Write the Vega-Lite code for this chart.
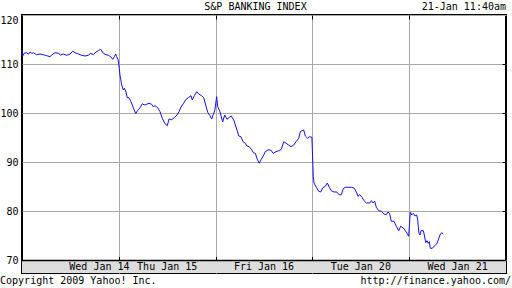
{
  "$schema": "https://vega.github.io/schema/vega-lite/v6.json",
  "width": 484,
  "height": 258,
  "autosize": "none",
  "padding": {"left": 22, "top": 15, "right": 6, "bottom": 15},
  "background": "white",
  "config": {
    "view": {"stroke": "black", "strokeWidth": 2},
    "font": "DejaVu Sans Mono",
    "axis": {"labelFont": "DejaVu Sans Mono", "labelFontSize": 10, "labelColor": "black", "gridColor": "#aaaaaa", "gridOpacity": 1, "gridWidth": 1, "tickColor": "black", "tickWidth": 1}
  },
  "datasets": {
    "prices": [
      {"t": 0.000, "v": 112.87}, {"t": 0.007, "v": 111.65}, {"t": 0.021, "v": 112.20}, {"t": 0.049, "v": 112.32},
      {"t": 0.065, "v": 112.00}, {"t": 0.083, "v": 112.46}, {"t": 0.100, "v": 112.20}, {"t": 0.117, "v": 112.32},
      {"t": 0.152, "v": 111.91}, {"t": 0.186, "v": 112.06}, {"t": 0.220, "v": 111.91}, {"t": 0.255, "v": 111.71},
      {"t": 0.289, "v": 111.51}, {"t": 0.307, "v": 111.85}, {"t": 0.341, "v": 112.32}, {"t": 0.375, "v": 112.20},
      {"t": 0.400, "v": 111.85}, {"t": 0.427, "v": 112.06}, {"t": 0.462, "v": 111.79}, {"t": 0.496, "v": 112.06},
      {"t": 0.524, "v": 112.61}, {"t": 0.548, "v": 112.32}, {"t": 0.582, "v": 112.06}, {"t": 0.617, "v": 111.79},
      {"t": 0.651, "v": 111.65}, {"t": 0.685, "v": 111.79}, {"t": 0.710, "v": 112.20}, {"t": 0.737, "v": 111.91},
      {"t": 0.764, "v": 112.46}, {"t": 0.788, "v": 112.73}, {"t": 0.813, "v": 113.01}, {"t": 0.840, "v": 112.20},
      {"t": 0.868, "v": 111.91}, {"t": 0.892, "v": 111.79}, {"t": 0.916, "v": 111.51}, {"t": 0.937, "v": 110.98},
      {"t": 0.954, "v": 111.51}, {"t": 0.968, "v": 112.06}, {"t": 0.978, "v": 111.51}, {"t": 0.992, "v": 110.98},
      {"t": 1.005, "v": 109.14}, {"t": 1.012, "v": 107.78}, {"t": 1.030, "v": 105.74}, {"t": 1.046, "v": 104.73},
      {"t": 1.057, "v": 105.07}, {"t": 1.071, "v": 104.52}, {"t": 1.088, "v": 103.16}, {"t": 1.105, "v": 103.16},
      {"t": 1.126, "v": 102.34}, {"t": 1.150, "v": 101.12}, {"t": 1.175, "v": 99.90}, {"t": 1.195, "v": 100.59},
      {"t": 1.219, "v": 101.12}, {"t": 1.243, "v": 101.93}, {"t": 1.263, "v": 101.67}, {"t": 1.288, "v": 101.81},
      {"t": 1.312, "v": 102.02}, {"t": 1.340, "v": 101.81}, {"t": 1.356, "v": 101.32}, {"t": 1.374, "v": 101.53},
      {"t": 1.402, "v": 101.12}, {"t": 1.426, "v": 100.31}, {"t": 1.449, "v": 98.96}, {"t": 1.477, "v": 97.86},
      {"t": 1.501, "v": 97.45}, {"t": 1.519, "v": 98.82}, {"t": 1.546, "v": 98.68}, {"t": 1.573, "v": 99.08},
      {"t": 1.601, "v": 99.63}, {"t": 1.622, "v": 100.31}, {"t": 1.643, "v": 101.26}, {"t": 1.666, "v": 101.93},
      {"t": 1.691, "v": 102.75}, {"t": 1.718, "v": 103.16}, {"t": 1.746, "v": 103.56}, {"t": 1.759, "v": 102.69},
      {"t": 1.780, "v": 103.56}, {"t": 1.805, "v": 104.38}, {"t": 1.829, "v": 103.85}, {"t": 1.856, "v": 103.56},
      {"t": 1.877, "v": 103.16}, {"t": 1.898, "v": 101.67}, {"t": 1.918, "v": 100.18}, {"t": 1.942, "v": 99.49},
      {"t": 1.960, "v": 98.82}, {"t": 1.976, "v": 99.78}, {"t": 1.991, "v": 100.45}, {"t": 2.011, "v": 103.36},
      {"t": 2.022, "v": 101.32}, {"t": 2.045, "v": 100.31}, {"t": 2.073, "v": 98.21}, {"t": 2.094, "v": 99.63},
      {"t": 2.118, "v": 98.76}, {"t": 2.142, "v": 99.16}, {"t": 2.162, "v": 99.43}, {"t": 2.187, "v": 98.62},
      {"t": 2.204, "v": 97.60}, {"t": 2.221, "v": 96.58}, {"t": 2.239, "v": 95.36}, {"t": 2.262, "v": 95.21},
      {"t": 2.283, "v": 94.20}, {"t": 2.307, "v": 93.87}, {"t": 2.324, "v": 93.32}, {"t": 2.348, "v": 93.18},
      {"t": 2.369, "v": 92.65}, {"t": 2.390, "v": 91.96}, {"t": 2.410, "v": 91.83}, {"t": 2.431, "v": 90.61},
      {"t": 2.451, "v": 89.80}, {"t": 2.472, "v": 90.61}, {"t": 2.497, "v": 91.49}, {"t": 2.513, "v": 92.16},
      {"t": 2.541, "v": 92.51}, {"t": 2.569, "v": 92.51}, {"t": 2.596, "v": 91.83}, {"t": 2.624, "v": 92.16},
      {"t": 2.652, "v": 92.36}, {"t": 2.679, "v": 92.65}, {"t": 2.704, "v": 94.20}, {"t": 2.727, "v": 93.87},
      {"t": 2.755, "v": 93.52}, {"t": 2.779, "v": 93.18}, {"t": 2.807, "v": 93.52}, {"t": 2.831, "v": 94.20},
      {"t": 2.859, "v": 94.89}, {"t": 2.875, "v": 96.23}, {"t": 2.893, "v": 96.44}, {"t": 2.910, "v": 96.58},
      {"t": 2.927, "v": 95.36}, {"t": 2.951, "v": 94.89}, {"t": 2.972, "v": 95.21}, {"t": 2.995, "v": 95.09},
      {"t": 3.009, "v": 87.15}, {"t": 3.017, "v": 85.78}, {"t": 3.040, "v": 84.91}, {"t": 3.065, "v": 84.09},
      {"t": 3.086, "v": 83.95}, {"t": 3.106, "v": 84.77}, {"t": 3.133, "v": 85.11}, {"t": 3.154, "v": 85.78},
      {"t": 3.175, "v": 84.91}, {"t": 3.195, "v": 84.22}, {"t": 3.223, "v": 83.95}, {"t": 3.251, "v": 83.95},
      {"t": 3.275, "v": 83.40}, {"t": 3.299, "v": 83.40}, {"t": 3.319, "v": 84.62}, {"t": 3.340, "v": 84.91},
      {"t": 3.368, "v": 84.91}, {"t": 3.402, "v": 84.91}, {"t": 3.430, "v": 84.77}, {"t": 3.454, "v": 83.95},
      {"t": 3.471, "v": 83.08}, {"t": 3.489, "v": 83.40}, {"t": 3.512, "v": 82.87}, {"t": 3.533, "v": 82.18},
      {"t": 3.557, "v": 81.71}, {"t": 3.592, "v": 81.71}, {"t": 3.609, "v": 82.18}, {"t": 3.626, "v": 81.71},
      {"t": 3.644, "v": 82.06}, {"t": 3.660, "v": 80.84}, {"t": 3.685, "v": 80.14}, {"t": 3.712, "v": 80.02},
      {"t": 3.740, "v": 79.47}, {"t": 3.763, "v": 79.33}, {"t": 3.781, "v": 79.88}, {"t": 3.799, "v": 79.47},
      {"t": 3.815, "v": 77.98}, {"t": 3.843, "v": 77.98}, {"t": 3.867, "v": 76.97}, {"t": 3.892, "v": 76.07},
      {"t": 3.912, "v": 76.97}, {"t": 3.939, "v": 76.62}, {"t": 3.970, "v": 75.80}, {"t": 3.995, "v": 74.93},
      {"t": 4.011, "v": 79.82}, {"t": 4.026, "v": 79.27}, {"t": 4.042, "v": 79.61}, {"t": 4.060, "v": 79.06},
      {"t": 4.077, "v": 79.27}, {"t": 4.088, "v": 78.25}, {"t": 4.094, "v": 76.88}, {"t": 4.101, "v": 75.54},
      {"t": 4.112, "v": 75.19}, {"t": 4.122, "v": 76.07}, {"t": 4.146, "v": 76.07}, {"t": 4.156, "v": 75.19},
      {"t": 4.171, "v": 73.63}, {"t": 4.184, "v": 74.03}, {"t": 4.197, "v": 73.50}, {"t": 4.208, "v": 73.83},
      {"t": 4.218, "v": 72.48}, {"t": 4.239, "v": 72.48}, {"t": 4.259, "v": 72.95}, {"t": 4.284, "v": 73.36},
      {"t": 4.300, "v": 74.18}, {"t": 4.318, "v": 75.19}, {"t": 4.335, "v": 75.66}, {"t": 4.352, "v": 75.40}
    ],
    "days": [
      {"t": 0.8, "label": "Wed Jan 14"},
      {"t": 1.5, "label": "Thu Jan 15"},
      {"t": 2.5, "label": "Fri Jan 16"},
      {"t": 3.5, "label": "Tue Jan 20"},
      {"t": 4.5, "label": "Wed Jan 21"}
    ]
  },
  "layer": [
    {
      "data": {"name": "prices"},
      "mark": {"type": "line", "color": "#1010ff", "strokeWidth": 1, "interpolate": "linear"},
      "encoding": {
        "x": {"field": "t", "type": "quantitative", "scale": {"domain": [0, 5], "nice": false, "zero": false},
              "axis": {"orient": "top", "values": [1, 2, 3, 4], "grid": true, "labels": false, "domain": false, "ticks": true, "tickSize": -4, "title": null}},
        "y": {"field": "v", "type": "quantitative", "scale": {"domain": [67.45, 120], "nice": false, "zero": false},
              "axis": {"orient": "left", "values": [70, 80, 90, 100, 110, 120], "grid": true, "ticks": false, "domain": false, "labelPadding": 4, "labelFlush": true, "title": null}}
      }
    },
    {
      "data": {"values": [{}]},
      "mark": {"type": "rect", "fill": "#dddddd", "stroke": null},
      "encoding": {
        "x": {"datum": 0, "type": "quantitative", "scale": {"domain": [0, 5], "nice": false, "zero": false},
              "axis": {"orient": "bottom", "offset": -12.5, "values": [1, 2, 3, 4], "grid": false, "labels": false, "domain": false, "ticks": true, "tickSize": -4, "title": null}},
        "x2": {"datum": 5},
        "y": {"datum": 67.45, "type": "quantitative", "scale": {"domain": [67.45, 120], "nice": false, "zero": false},
              "axis": {"orient": "right", "values": [80, 90, 100, 110], "grid": false, "labels": false, "domain": false, "ticks": true, "tickSize": -4, "title": null}},
        "y2": {"datum": 70}
      }
    },
    {
      "data": {"values": [{}]},
      "mark": {"type": "rule", "color": "black", "strokeWidth": 1.5},
      "encoding": {
        "x": {"datum": 0, "type": "quantitative", "axis": null},
        "x2": {"datum": 5},
        "y": {"datum": 70, "type": "quantitative", "axis": null}
      }
    },
    {
      "data": {"name": "days"},
      "mark": {"type": "text", "font": "DejaVu Sans Mono", "fontSize": 10, "color": "black", "align": "center", "baseline": "middle"},
      "encoding": {
        "x": {"field": "t", "type": "quantitative", "axis": null},
        "y": {"datum": 68.68, "type": "quantitative", "axis": null},
        "text": {"field": "label"}
      }
    },
    {
      "data": {"values": [{}]},
      "mark": {"type": "text", "font": "DejaVu Sans Mono", "fontSize": 10, "color": "black", "align": "center", "baseline": "middle", "text": "S&P BANKING INDEX"},
      "encoding": {
        "x": {"datum": 2.412, "type": "quantitative", "axis": null},
        "y": {"datum": 121.63, "type": "quantitative", "axis": null}
      }
    },
    {
      "data": {"values": [{}]},
      "mark": {"type": "text", "font": "DejaVu Sans Mono", "fontSize": 10, "color": "black", "align": "right", "baseline": "middle", "text": "21-Jan 11:40am"},
      "encoding": {
        "x": {"datum": 5, "type": "quantitative", "axis": null},
        "y": {"datum": 121.63, "type": "quantitative", "axis": null}
      }
    },
    {
      "data": {"values": [{}]},
      "mark": {"type": "text", "font": "DejaVu Sans Mono", "fontSize": 10, "color": "black", "align": "left", "baseline": "middle", "text": "Copyright 2009 Yahoo! Inc."},
      "encoding": {
        "x": {"datum": -0.227, "type": "quantitative", "axis": null},
        "y": {"datum": 65.72, "type": "quantitative", "axis": null}
      }
    },
    {
      "data": {"values": [{}]},
      "mark": {"type": "text", "font": "DejaVu Sans Mono", "fontSize": 10, "color": "black", "align": "right", "baseline": "middle", "text": "http://finance.yahoo.com/"},
      "encoding": {
        "x": {"datum": 5.052, "type": "quantitative", "axis": null},
        "y": {"datum": 65.72, "type": "quantitative", "axis": null}
      }
    }
  ],
  "resolve": {"axis": {"x": "independent", "y": "independent"}}
}
